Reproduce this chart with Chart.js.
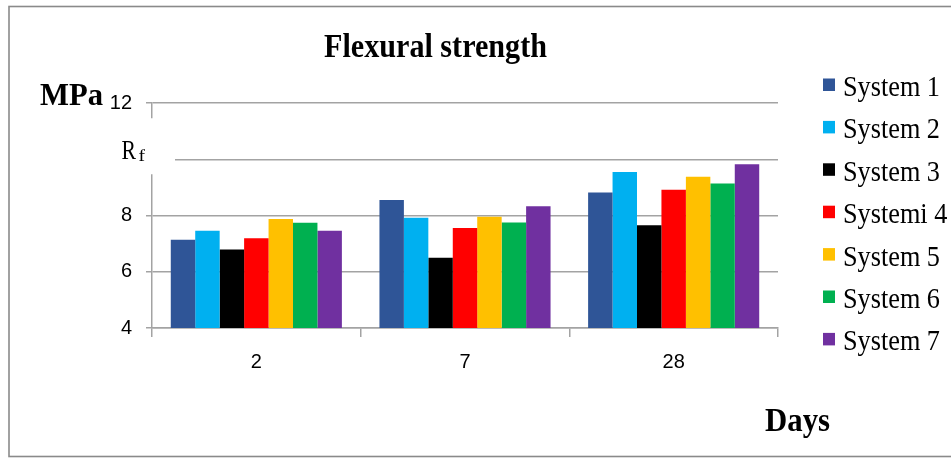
<!DOCTYPE html>
<html>
<head>
<meta charset="utf-8">
<title>Flexural strength</title>
<script src="https://cdn.jsdelivr.net/npm/chart.js@4/dist/chart.umd.min.js"></script>
<style>
  html, body { margin: 0; padding: 0; background: #fff; overflow: hidden; }
  #wrap { width: 951px; height: 458px; position: relative; }
</style>
</head>
<body>
<div id="wrap"><canvas id="c" width="951" height="458"></canvas></div>
<script>
// Curing age (days)
const days = ['2', '7', '28'];

// Flexural strength per system, MPa
const system1 = [7.14, 8.55, 8.82];
const system2 = [7.46, 7.92, 9.55];
const system3 = [6.79, 6.50, 7.65];
const system4 = [7.19, 7.56, 8.92];
const system5 = [7.88, 7.96, 9.38];
const system6 = [7.74, 7.75, 9.14];
const system7 = [7.46, 8.33, 9.82];

const systemNames = ['System 1', 'System 2', 'System 3', 'Systemi 4', 'System 5', 'System 6', 'System 7'];
const systemValues = [system1, system2, system3, system4, system5, system6, system7];
const systemColors = ['#2F5597', '#00B0F0', '#000000', '#FF0000', '#FFC000', '#00B050', '#7030A0'];

// Value axis
const yTicks = [4, 6, 8, 10, 12];
const yMin = 4;
const yMax = 12;
const rfTick = 10; // the R_f label sits where this tick label would be

const GRID = '#a3a3a3';
const SERIF = '"Liberation Serif", "Times New Roman", serif';

// draws text squeezed horizontally to the given width
function fitText(ctx, text, x, y, font, width, align) {
  ctx.save();
  ctx.font = font;
  const w = ctx.measureText(text).width;
  const sx = width ? width / w : 1;
  ctx.translate(x, y);
  ctx.scale(sx, 1);
  ctx.textAlign = align || 'left';
  ctx.textBaseline = 'alphabetic';
  ctx.fillStyle = '#000';
  ctx.fillText(text, 0, 0);
  ctx.restore();
  return sx;
}

const decorations = {
  id: 'decorations',
  beforeDraw(chart) {
    const ctx = chart.ctx;
    ctx.save();
    ctx.fillStyle = '#fff';
    ctx.fillRect(0, 0, chart.width, chart.height);
    ctx.restore();
  },
  afterDraw(chart) {
    const ctx = chart.ctx;
    ctx.save();

    // frame
    ctx.strokeStyle = '#8a8a8a';
    ctx.lineWidth = 1.6;
    ctx.strokeRect(9, 6.5, 960, 450);

    // title and axis names
    fitText(ctx, 'Flexural strength', 435.5, 57, 'bold 33px ' + SERIF, 223, 'center');
    fitText(ctx, 'MPa', 40, 105, 'bold 32px ' + SERIF, 63, 'left');
    fitText(ctx, 'Days', 765, 431, 'bold 34px ' + SERIF, 65, 'left');

    // R_f label box over the axis at its tick
    const yScale = chart.scales.y;
    const yRf = yScale.getPixelForValue(rfTick);
    ctx.fillStyle = '#fff';
    ctx.fillRect(100, yRf - 41, 75, 56);
    fitText(ctx, 'R', 121.5, yRf - 0.5, '27px ' + SERIF, 14.5, 'left');
    fitText(ctx, 'f', 138.5, yRf + 1.5, '17px ' + SERIF, 6.5, 'left');

    // legend
    ctx.font = '30px ' + SERIF;
    const sx = 97 / ctx.measureText('System 1').width;
    chart.data.datasets.forEach((ds, i) => {
      const base = 96 + 42.4 * i;
      ctx.fillStyle = ds.backgroundColor;
      ctx.fillRect(823, base - 17.5, 12, 12.5);
      ctx.save();
      ctx.translate(843, base);
      ctx.scale(sx, 1);
      ctx.fillStyle = '#000';
      ctx.textAlign = 'left';
      ctx.textBaseline = 'alphabetic';
      ctx.fillText(ds.label, 0, 0);
      ctx.restore();
    });

    ctx.restore();
  }
};

new Chart(document.getElementById('c'), {
  type: 'bar',
  data: {
    labels: days,
    datasets: systemNames.map((name, i) => ({
      label: name,
      data: systemValues[i],
      backgroundColor: systemColors[i],
      borderWidth: 0,
      barPercentage: 1.0,
      categoryPercentage: 0.82
    }))
  },
  options: {
    responsive: false,
    animation: false,
    layout: { padding: { left: 0, right: 173, top: 103, bottom: 90 } },
    plugins: {
      legend: { display: false },
      title: { display: false },
      tooltip: { enabled: false }
    },
    scales: {
      x: {
        afterFit(scale) { scale.height = 40; },
        grid: {
          display: true,
          drawOnChartArea: false,
          drawTicks: true,
          tickLength: 9,
          offset: true,
          color: GRID,
          lineWidth: 1.5
        },
        border: { display: true, color: GRID, width: 1.5 },
        ticks: {
          color: '#000',
          padding: 13,
          font: { family: '"Liberation Sans", Arial, sans-serif', size: 20 }
        }
      },
      y: {
        min: yMin,
        max: yMax,
        afterFit(scale) { scale.width = 152; },
        afterBuildTicks(scale) { scale.ticks = yTicks.map(v => ({ value: v })); },
        grid: {
          color: GRID,
          lineWidth: 1.5,
          tickLength: 6,
          drawTicks: true
        },
        border: { display: true, color: GRID, width: 1.5 },
        ticks: {
          color: '#000',
          padding: 14,
          font: { family: '"Liberation Sans", Arial, sans-serif', size: 20 },
          callback: v => (v === rfTick ? '' : String(v))
        }
      }
    }
  },
  plugins: [decorations]
});
</script>
</body>
</html>
